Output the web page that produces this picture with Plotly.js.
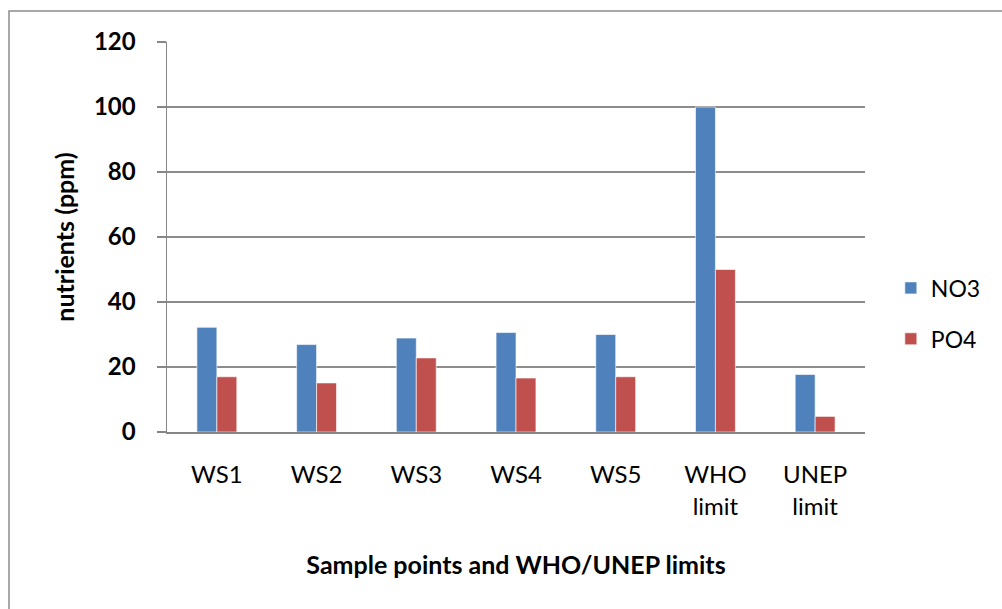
<!DOCTYPE html>
<html>
<head>
<meta charset="utf-8">
<script src="https://cdn.plot.ly/plotly-3.0.1.min.js"></script>
<style>
html,body{margin:0;padding:0;background:#fff;}
#chart{width:1002px;height:609px;}
</style>
</head>
<body>
<div id="chart"></div>
<script>
const categories = ["WS1", "WS2", "WS3", "WS4", "WS5", "WHO<br>limit", "UNEP<br>limit"];
const no3 = [32.2, 26.9, 28.9, 30.6, 30.0, 100, 17.7];
const po4 = [17.0, 15.1, 22.8, 16.6, 17.0, 50, 4.8];
const yTicks = [0, 20, 40, 60, 80, 100, 120];

const FONT = "Lato, 'Open Sans', 'Liberation Sans', sans-serif";

const traces = [
  {type: "bar", name: "NO3", x: categories, y: no3, legendgroup: "a",
   marker: {color: "#4F81BD", line: {color: "rgba(255,255,255,0.6)", width: 1}}},
  {type: "bar", name: "PO4", x: categories, y: po4, legendgroup: "b",
   marker: {color: "#C0504D", line: {color: "rgba(255,255,255,0.6)", width: 1}}}
];

const layout = {
  width: 1002, height: 609,
  margin: {l: 167, r: 137, t: 42, b: 177, pad: 0},
  paper_bgcolor: "#fff", plot_bgcolor: "#fff",
  font: {family: FONT, color: "#000"},
  barmode: "group",
  bargap: 0.6, bargroupgap: 0,
  showlegend: true,
  legend: {x: 1.037, y: 0.304, xanchor: "left", yanchor: "middle",
    font: {size: 23, family: FONT, color: "#000"}, tracegroupgap: 18,
    traceorder: "grouped", bgcolor: "rgba(0,0,0,0)"},
  xaxis: {
    type: "category", tickfont: {size: 24, family: FONT, color: "#000"},
    showline: true, linecolor: "#868686", linewidth: 1.5,
    ticks: "", showgrid: false, ticklen: 0, automargin: false,
    ticklabelstandoff: 21,
    title: {text: "<b>Sample points and WHO/UNEP limits</b>", font: {size: 25, family: FONT, color: "#000"}, standoff: 38}
  },
  yaxis: {
    range: [0, 120], tickvals: yTicks, ticktext: yTicks.map(String),
    tickfont: {size: 24, family: FONT, color: "#000", weight: "bold"},
    showline: true, linecolor: "#868686", linewidth: 1.5,
    ticks: "outside", ticklen: 9, tickcolor: "#868686", tickwidth: 1.5,
    ticklabelstandoff: 16,
    showgrid: true, gridcolor: "#8c8c8c", gridwidth: 1.5, zeroline: false,
    automargin: false,
    title: {text: "<b>nutrients (ppm)</b>", font: {size: 25, family: FONT, color: "#000"}, standoff: 12}
  },
  shapes: [
    {type: "rect", xref: "paper", yref: "paper",
     x0: (9 - 167) / 698, x1: 2, y0: -1, y1: (432 - 11) / 390,
     line: {color: "#8c8c8c", width: 1.5}, fillcolor: "rgba(0,0,0,0)", layer: "below"}
  ]
};

Plotly.newPlot("chart", traces, layout, {displayModeBar: false, staticPlot: true});
</script>
</body>
</html>
